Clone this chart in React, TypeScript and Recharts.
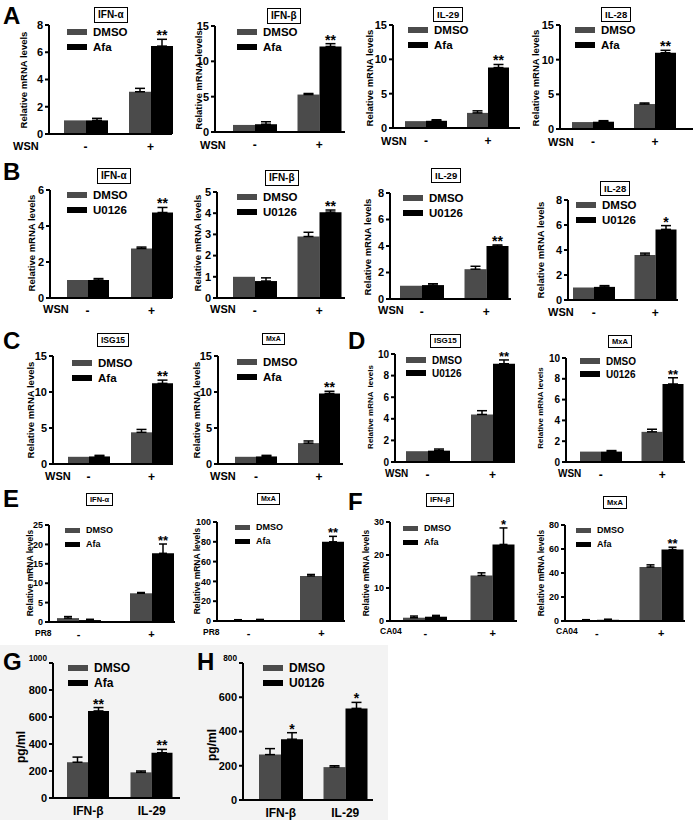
import React from "react";
import { Bar, BarChart, ErrorBar, LabelList, Legend, XAxis, YAxis } from "recharts";

const FONT = '"Liberation Sans", Arial, Helvetica, sans-serif';
const GREY = "#4b4b4b";

// categories
const TREAT = ["-", "+"];
const CYTO = ["IFN-β", "IL-29"];

// [mean, sem] per category
// A: WSN, DMSO vs Afa
const A_IFNA_DMSO = [[1.0, 0], [3.1, 0.25]];
const A_IFNA_AFA = [[1.0, 0.15], [6.45, 0.5]];
const A_IFNB_DMSO = [[1.0, 0], [5.3, 0.15]];
const A_IFNB_AFA = [[1.1, 0.35], [12.1, 0.4]];
const A_IL29_DMSO = [[1.0, 0], [2.2, 0.3]];
const A_IL29_AFA = [[1.05, 0.15], [8.8, 0.45]];
const A_IL28_DMSO = [[1.0, 0], [3.6, 0.15]];
const A_IL28_AFA = [[1.05, 0.15], [11.0, 0.35]];
// B: WSN, DMSO vs U0126
const B_IFNA_DMSO = [[1.0, 0], [2.75, 0.08]];
const B_IFNA_U0126 = [[1.0, 0.08], [4.75, 0.28]];
const B_IFNB_DMSO = [[1.0, 0], [2.9, 0.2]];
const B_IFNB_U0126 = [[0.8, 0.15], [4.05, 0.1]];
const B_IL29_DMSO = [[1.0, 0], [2.25, 0.22]];
const B_IL29_U0126 = [[1.05, 0.1], [4.0, 0.08]];
const B_IL28_DMSO = [[1.0, 0], [3.6, 0.15]];
const B_IL28_U0126 = [[1.05, 0.1], [5.65, 0.3]];
// C: WSN, DMSO vs Afa
const C_ISG15_DMSO = [[1.0, 0], [4.4, 0.4]];
const C_ISG15_AFA = [[1.05, 0.15], [11.2, 0.45]];
const C_MXA_DMSO = [[1.0, 0], [2.9, 0.3]];
const C_MXA_AFA = [[1.05, 0.15], [9.8, 0.3]];
// D: WSN, DMSO vs U0126
const D_ISG15_DMSO = [[1.0, 0], [4.4, 0.35]];
const D_ISG15_U0126 = [[1.05, 0.15], [9.1, 0.35]];
const D_MXA_DMSO = [[1.0, 0], [2.9, 0.25]];
const D_MXA_U0126 = [[1.0, 0.1], [7.5, 0.6]];
// E: PR8, DMSO vs Afa
const E_IFNA_DMSO = [[1.0, 0.4], [7.4, 0.2]];
const E_IFNA_AFA = [[0.5, 0.2], [17.7, 2.4]];
const E_MXA_DMSO = [[1.0, 0.3], [45.5, 1.5]];
const E_MXA_AFA = [[1.0, 0.6], [80, 5.5]];
// F: CA04, DMSO vs Afa
const F_IFNB_DMSO = [[1.0, 0.5], [13.8, 0.8]];
const F_IFNB_AFA = [[1.3, 0.4], [23.2, 5.0]];
const F_MXA_DMSO = [[0.8, 0.3], [45, 1.8]];
const F_MXA_AFA = [[1.0, 0.5], [59.5, 2.0]];
// G / H: secreted protein (pg/ml)
const G_DMSO = [[265, 38], [190, 10]];
const G_AFA = [[645, 25], [335, 25]];
const H_DMSO = [[265, 35], [192, 8]];
const H_U0126 = [[355, 38], [535, 35]];

const SIG_2 = ["", "**"];
const SIG_1 = ["", "*"];
const SIG_G = ["**", "**"];
const SIG_H = ["*", "*"];

const TICKS_8 = [0, 2, 4, 6, 8];
const TICKS_15 = [0, 5, 10, 15];
const TICKS_6 = [0, 2, 4, 6];
const TICKS_5 = [0, 1, 2, 3, 4, 5];
const TICKS_10 = [0, 2, 4, 6, 8, 10];
const TICKS_25 = [0, 5, 10, 15, 20, 25];
const TICKS_100 = [0, 20, 40, 60, 80, 100];
const TICKS_30 = [0, 10, 20, 30];
const TICKS_80 = [0, 20, 40, 60, 80];
const TICKS_1000 = [0, 200, 400, 600, 800, 1000];
const TICKS_800 = [0, 200, 400, 600, 800];

const SIZES: Record<string, any> = {
  L: { tick: 11, xtick: 12, ylab: 9.5, legend: 11.5, treat: 11, star: 14, sw: 20, sh: 6, step: 15, cap: 5 },
  M: { tick: 10, xtick: 12, ylab: 8, legend: 10, treat: 10, star: 13, sw: 20, sh: 6, step: 13, cap: 5 },
  S: { tick: 9, xtick: 11, ylab: 8.5, legend: 9, treat: 8.5, star: 13, sw: 15, sh: 5, step: 14, cap: 4 },
  G: { tick: 11, xtick: 12, ylab: 12, legend: 12, treat: 0, star: 14, sw: 20, sh: 6, step: 15, cap: 5 },
};

type Spec = {
  x0: number; y0: number; x1: number; y1: number;
  max: number; ticks: number[];
  cats: string[]; dmso: number[][]; drug: number[][]; sig: string[]; drugName: string;
  size: string;
  inset: number; gap: number; endPad: number;
  title?: string; tx?: number; ty?: number; tfs?: number;
  treat?: string; trx?: number; tr_y?: number;
  ylab: string; ylx: number; yly: number;
  lgx: number; lgy: number;
  smallTop?: boolean;
};

const PANELS: Spec[] = [
  // row A
  { x0: 49, y0: 25, x1: 172, y1: 134, max: 8, ticks: TICKS_8, cats: TREAT, dmso: A_IFNA_DMSO, drug: A_IFNA_AFA, sig: SIG_2, drugName: "Afa", size: "L", inset: 15, gap: 22, endPad: 0, title: "IFN-α", tx: 94, ty: 7, tfs: 10, treat: "WSN", trx: 13, tr_y: 146, ylab: "Relative mRNA levels", ylx: 24, yly: 80, lgx: 67, lgy: 32 },
  { x0: 215, y0: 26, x1: 345, y1: 132, max: 15, ticks: TICKS_15, cats: TREAT, dmso: A_IFNB_DMSO, drug: A_IFNB_AFA, sig: SIG_2, drugName: "Afa", size: "L", inset: 18, gap: 21, endPad: 4, title: "IFN-β", tx: 267, ty: 8, tfs: 10, treat: "WSN", trx: 200, tr_y: 145, ylab: "Relative mRNA  levels", ylx: 199, yly: 80, lgx: 237, lgy: 32 },
  { x0: 393, y0: 25, x1: 520, y1: 128, max: 15, ticks: TICKS_15, cats: TREAT, dmso: A_IL29_DMSO, drug: A_IL29_AFA, sig: SIG_2, drugName: "Afa", size: "L", inset: 12, gap: 20, endPad: 11, title: "IL-29", tx: 433, ty: 7, tfs: 9.5, treat: "WSN", trx: 381, tr_y: 141, ylab: "Relative mRNA levels", ylx: 370, yly: 78, lgx: 408, lgy: 30 },
  { x0: 560, y0: 25, x1: 693, y1: 129, max: 15, ticks: TICKS_15, cats: TREAT, dmso: A_IL28_DMSO, drug: A_IL28_AFA, sig: SIG_2, drugName: "Afa", size: "L", inset: 12, gap: 20, endPad: 17, title: "IL-28", tx: 601, ty: 7, tfs: 9.5, treat: "WSN", trx: 548, tr_y: 142, ylab: "Relative mRNA levels", ylx: 536, yly: 78, lgx: 575, lgy: 30 },
  // row B
  { x0: 50, y0: 190, x1: 172, y1: 298, max: 6, ticks: TICKS_6, cats: TREAT, dmso: B_IFNA_DMSO, drug: B_IFNA_U0126, sig: SIG_2, drugName: "U0126", size: "L", inset: 17, gap: 23, endPad: 0, title: "IFN-α", tx: 97, ty: 168, tfs: 10, treat: "WSN", trx: 43, tr_y: 309, ylab: "Relative mRNA levels", ylx: 32, yly: 243, lgx: 67, lgy: 195 },
  { x0: 217, y0: 192, x1: 345, y1: 298, max: 5, ticks: TICKS_5, cats: TREAT, dmso: B_IFNB_DMSO, drug: B_IFNB_U0126, sig: SIG_2, drugName: "U0126", size: "L", inset: 16, gap: 21, endPad: 4, title: "IFN-β", tx: 265, ty: 170, tfs: 10, treat: "WSN", trx: 210, tr_y: 309, ylab: "Relative mRNA levels", ylx: 198, yly: 243, lgx: 237, lgy: 197 },
  { x0: 390, y0: 193, x1: 511, y1: 299, max: 8, ticks: TICKS_8, cats: TREAT, dmso: B_IL29_DMSO, drug: B_IL29_U0126, sig: SIG_2, drugName: "U0126", size: "L", inset: 10, gap: 21, endPad: 3, title: "IL-29", tx: 431, ty: 168, tfs: 9.5, treat: "WSN", trx: 378, tr_y: 310, ylab: "Relative mRNA levels", ylx: 368, yly: 247, lgx: 403, lgy: 198 },
  { x0: 568, y0: 200, x1: 678, y1: 300, max: 8, ticks: TICKS_8, cats: TREAT, dmso: B_IL28_DMSO, drug: B_IL28_U0126, sig: SIG_1, drugName: "U0126", size: "L", inset: 5, gap: 20, endPad: 2, title: "IL-28", tx: 600, ty: 181, tfs: 9.5, treat: "WSN", trx: 548, tr_y: 312, ylab: "Relative mRNA levels", ylx: 541, yly: 250, lgx: 576, lgy: 205 },
  // row C / D
  { x0: 53, y0: 356, x1: 173, y1: 464, max: 15, ticks: TICKS_15, cats: TREAT, dmso: C_ISG15_DMSO, drug: C_ISG15_AFA, sig: SIG_2, drugName: "Afa", size: "L", inset: 15, gap: 22, endPad: 1, title: "ISG15", tx: 97, ty: 333, tfs: 8.5, treat: "WSN", trx: 45, tr_y: 476, ylab: "Relative mRNA levels", ylx: 31, yly: 410, lgx: 72, lgy: 363 },
  { x0: 218, y0: 356, x1: 343, y1: 464, max: 15, ticks: TICKS_15, cats: TREAT, dmso: C_MXA_DMSO, drug: C_MXA_AFA, sig: SIG_2, drugName: "Afa", size: "L", inset: 17, gap: 21, endPad: 3, title: "MxA", tx: 262, ty: 333, tfs: 7, treat: "WSN", trx: 210, tr_y: 476, ylab: "Relative mRNA levels", ylx: 197, yly: 410, lgx: 237, lgy: 362 },
  { x0: 395, y0: 354, x1: 515, y1: 462, max: 10, ticks: TICKS_10, cats: TREAT, dmso: D_ISG15_DMSO, drug: D_ISG15_U0126, sig: SIG_2, drugName: "U0126", size: "M", inset: 11, gap: 22, endPad: 1, title: "ISG15", tx: 430, ty: 334, tfs: 8, treat: "WSN", trx: 385, tr_y: 474, ylab: "Relative mRNA  levels", ylx: 371, yly: 407, lgx: 406, lgy: 360 },
  { x0: 566, y0: 358, x1: 685, y1: 462, max: 10, ticks: TICKS_10, cats: TREAT, dmso: D_MXA_DMSO, drug: D_MXA_U0126, sig: SIG_2, drugName: "U0126", size: "M", inset: 14, gap: 20, endPad: 2, title: "MxA", tx: 608, ty: 335, tfs: 7.5, treat: "WSN", trx: 558, tr_y: 474, ylab: "Relative mRNA levels", ylx: 541, yly: 408, lgx: 580, lgy: 361 },
  // row E / F
  { x0: 49, y0: 525, x1: 175, y1: 622, max: 25, ticks: TICKS_25, cats: TREAT, dmso: E_IFNA_DMSO, drug: E_IFNA_AFA, sig: SIG_2, drugName: "Afa", size: "S", inset: 8, gap: 30, endPad: 2, title: "IFN-α", tx: 86, ty: 493, tfs: 7.5, treat: "PR8", trx: 35, tr_y: 633, ylab: "Relative mRNA levels", ylx: 30, yly: 573, lgx: 65, lgy: 530 },
  { x0: 217, y0: 522, x1: 345, y1: 621, max: 100, ticks: TICKS_100, cats: TREAT, dmso: E_MXA_DMSO, drug: E_MXA_AFA, sig: SIG_2, drugName: "Afa", size: "S", inset: 10, gap: 30, endPad: 2, title: "MxA", tx: 257, ty: 493, tfs: 7, treat: "PR8", trx: 203, tr_y: 632, ylab: "Relative mRNA levels", ylx: 197, yly: 571, lgx: 235, lgy: 527 },
  { x0: 390, y0: 522, x1: 517, y1: 621, max: 30, ticks: TICKS_30, cats: TREAT, dmso: F_IFNB_DMSO, drug: F_IFNB_AFA, sig: SIG_1, drugName: "Afa", size: "S", inset: 13, gap: 23, endPad: 2, title: "IFN-β", tx: 426, ty: 493, tfs: 8, treat: "CA04", trx: 380, tr_y: 631, ylab: "Relative mRNA levels", ylx: 366, yly: 573, lgx: 403, lgy: 528 },
  { x0: 565, y0: 525, x1: 685, y1: 621, max: 80, ticks: TICKS_80, cats: TREAT, dmso: F_MXA_DMSO, drug: F_MXA_AFA, sig: SIG_2, drugName: "Afa", size: "S", inset: 10, gap: 21, endPad: 2, title: "MxA", tx: 603, ty: 496, tfs: 7.5, treat: "CA04", trx: 556, tr_y: 631, ylab: "Relative mRNA levels", ylx: 541, yly: 573, lgx: 576, lgy: 530 },
  // row G / H
  { x0: 53, y0: 663, x1: 180, y1: 798, max: 1000, ticks: TICKS_1000, cats: CYTO, dmso: G_DMSO, drug: G_AFA, sig: SIG_G, drugName: "Afa", size: "G", inset: 14, gap: 21, endPad: 7, ylab: "pg/ml", ylx: 21, yly: 747, lgx: 68, lgy: 668, smallTop: true },
  { x0: 243, y0: 663, x1: 373, y1: 800, max: 800, ticks: TICKS_800, cats: CYTO, dmso: H_DMSO, drug: H_U0126, sig: SIG_H, drugName: "U0126", size: "G", inset: 16, gap: 21, endPad: 6, ylab: "pg/ml", ylx: 212, yly: 745, lgx: 263, lgy: 668, smallTop: true },
];

const LETTERS = [
  { t: "A", x: 3, y: 4 },
  { t: "B", x: 3, y: 160 },
  { t: "C", x: 3, y: 329 },
  { t: "D", x: 348, y: 329 },
  { t: "E", x: 3, y: 487 },
  { t: "F", x: 348, y: 490 },
  { t: "G", x: 3, y: 650 },
  { t: "H", x: 197, y: 650 },
];

function buildRows(s: Spec) {
  return s.cats.map((c, i) => ({
    cat: c,
    dmso: s.dmso[i][0],
    dmsoErr: s.dmso[i][1] > 0 ? [0, s.dmso[i][1]] : null,
    drug: s.drug[i][0],
    drugErr: s.drug[i][1] > 0 ? [0, s.drug[i][1]] : null,
    drugE: s.drug[i][1],
    sig: s.sig[i],
  }));
}

const starContent = (rows: any[], fs: number) => (props: any) => {
  const vb = props.viewBox && props.viewBox.width != null ? props.viewBox : props;
  const r = rows[props.index];
  if (!r || !r.sig) return null;
  const unit = r.drug ? vb.height / r.drug : 0;
  const yTop = vb.y - r.drugE * unit;
  return (
    <text x={vb.x + vb.width / 2} y={yTop + 1} textAnchor="middle" fontSize={fs} fontWeight="bold" fontFamily={FONT} fill="#000">
      {r.sig}
    </text>
  );
};

const yTick = (fs: number, smallTop: boolean, max: number) => (tp: any) => {
  const v = tp.payload.value;
  const small = smallTop && v === max;
  return (
    <text x={tp.x} y={tp.y} dy={small ? -2 : fs * 0.35} textAnchor="end" fontSize={small ? fs * 0.75 : fs} fontWeight="bold" fontFamily={FONT} fill="#000">
      {v}
    </text>
  );
};

const legendContent = (names: string[], z: any) => () => (
  <div style={{ fontFamily: FONT, fontWeight: "bold", fontSize: z.legend, color: "#000" }}>
    {names.map((n, i) => (
      <div key={n} style={{ display: "flex", alignItems: "center", height: z.step, whiteSpace: "nowrap" }}>
        <span style={{ display: "inline-block", width: z.sw, height: z.sh, background: i === 0 ? GREY : "#000", marginRight: 6 }} />
        {n}
      </div>
    ))}
  </div>
);

function Panel({ s }: { s: Spec }) {
  const z = SIZES[s.size];
  const ML = 40, MT = 14, MR = 8, XH = 24;
  const plotW = s.x1 - s.x0;
  const plotH = s.y1 - s.y0;
  const left = s.x0 - ML;
  const top = s.y0 - MT;
  const rows = buildRows(s);
  const axisStyle = { stroke: "#000", strokeWidth: 2 };

  return (
    <>
      <div style={{ position: "absolute", left, top }}>
        <BarChart
          width={ML + plotW + MR}
          height={MT + plotH + XH}
          data={rows}
          margin={{ top: MT, right: MR, left: 0, bottom: 0 }}
          barCategoryGap={s.gap / 2}
          barGap={0}
        >
          <XAxis
            dataKey="cat"
            height={XH}
            interval={0}
            tickLine={false}
            axisLine={axisStyle}
            padding={{ left: s.inset - s.gap / 2, right: s.endPad - s.gap / 2 }}
            tick={{ fill: "#000", fontSize: z.xtick, fontWeight: "bold", fontFamily: FONT }}
          />
          <YAxis
            width={ML}
            domain={[0, s.max]}
            ticks={s.ticks}
            interval={0}
            allowDataOverflow
            tickSize={4}
            tickMargin={2}
            axisLine={axisStyle}
            tickLine={axisStyle}
            tick={yTick(z.tick, !!s.smallTop, s.max)}
          />
          <Legend
            layout="vertical"
            align="center"
            verticalAlign="middle"
            wrapperStyle={{ left: s.lgx - left, top: s.lgy - z.step / 2 - top, width: "auto", height: "auto", right: "auto", bottom: "auto" }}
            content={legendContent(["DMSO", s.drugName], z)}
          />
          <Bar dataKey="dmso" name="DMSO" fill={GREY} isAnimationActive={false}>
            <ErrorBar dataKey="dmsoErr" width={z.cap} stroke="#000" strokeWidth={1.5} isAnimationActive={false} />
          </Bar>
          <Bar dataKey="drug" name={s.drugName} fill="#000" isAnimationActive={false}>
            <ErrorBar dataKey="drugErr" width={z.cap} stroke="#000" strokeWidth={1.5} isAnimationActive={false} />
            <LabelList dataKey="sig" content={starContent(rows, z.star)} />
          </Bar>
        </BarChart>
      </div>
      {s.title && (
        <div
          style={{
            position: "absolute", left: s.tx, top: s.ty, border: "1px solid #000", padding: "1px 3px",
            fontSize: s.tfs, lineHeight: 1.2, fontWeight: "bold", fontFamily: FONT, background: "#fff", whiteSpace: "nowrap",
          }}
        >
          {s.title}
        </div>
      )}
      {s.treat && (
        <div
          style={{
            position: "absolute", left: s.trx, top: s.tr_y, transform: "translateY(-50%)", lineHeight: 1,
            fontSize: z.treat, fontWeight: "bold", fontFamily: FONT, whiteSpace: "nowrap",
          }}
        >
          {s.treat}
        </div>
      )}
      <div
        style={{
          position: "absolute", left: s.ylx, top: s.yly, transform: "translate(-50%, -50%) rotate(-90deg)",
          fontSize: z.ylab, lineHeight: 1, fontWeight: "bold", fontFamily: FONT, whiteSpace: "pre",
        }}
      >
        {s.ylab}
      </div>
    </>
  );
}

export default function App() {
  return (
    <div style={{ position: "absolute", left: 0, top: 0, width: 696, height: 820, overflow: "hidden", background: "#fff", fontFamily: FONT }}>
      <div style={{ position: "absolute", left: 0, top: 645, width: 388, height: 175, background: "#f3f3f3" }} />
      {PANELS.map((s, i) => (
        <Panel key={i} s={s} />
      ))}
      {LETTERS.map((l) => (
        <div
          key={l.t}
          style={{ position: "absolute", left: l.x, top: l.y, fontSize: 24, lineHeight: 1, fontWeight: "bold", fontFamily: FONT }}
        >
          {l.t}
        </div>
      ))}
    </div>
  );
}
